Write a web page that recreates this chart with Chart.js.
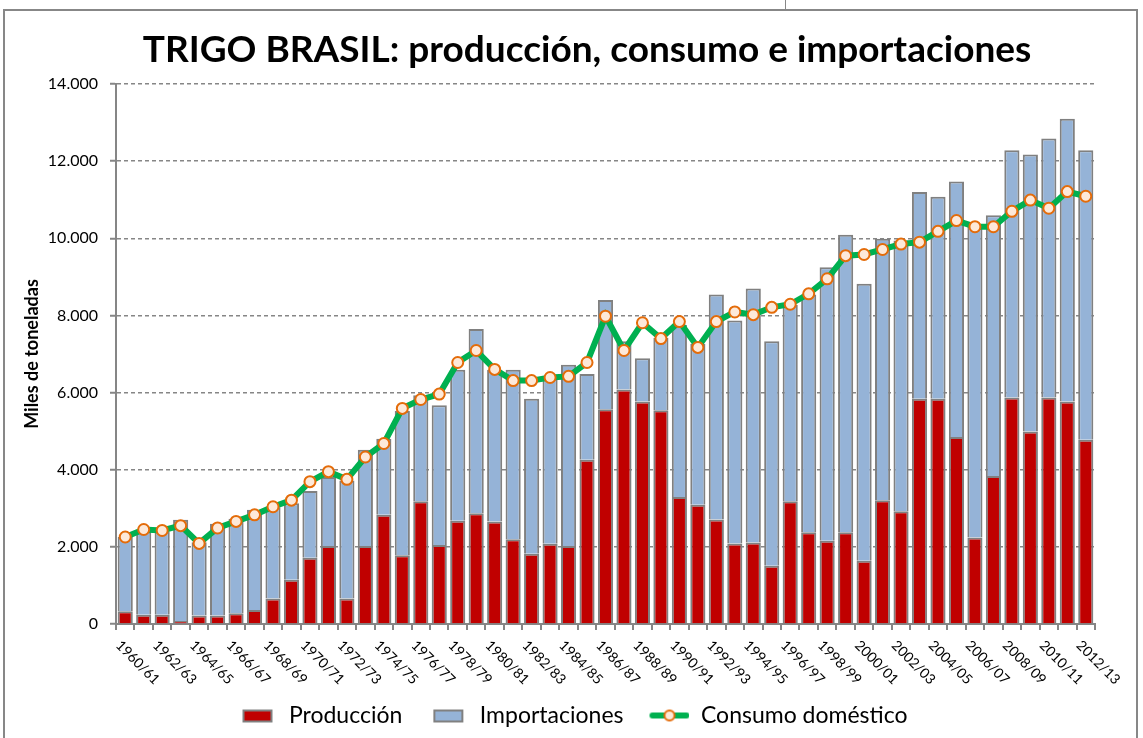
<!DOCTYPE html>
<html lang="es">
<head>
<meta charset="UTF-8">
<title>TRIGO BRASIL: producción, consumo e importaciones</title>
<script src="https://cdn.jsdelivr.net/npm/chart.js@4.4.0/dist/chart.umd.min.js"></script>
<style>
  html, body { margin: 0; padding: 0; background: #fff; }
  #wrap { position: relative; width: 1143px; height: 738px; overflow: hidden; }
  canvas { position: absolute; left: 0; top: 0; }
  #title { position: absolute; left: 0; top: 29px; width: 1174px; text-align: center;
           font: bold 37px/37px Lato, sans-serif; color: #000; white-space: nowrap; }
  #frame { position: absolute; left: 3px; top: 9px; width: 1135px; height: 740px; border: 2px solid #878787; box-sizing: border-box; }
  #notch { position: absolute; left: 785px; top: 0; width: 1px; height: 10px; background: #878787; }
</style>
</head>
<body>
<div id="wrap">
  <canvas id="chart" width="1143" height="738"></canvas>
  <div id="title">TRIGO BRASIL: producción, consumo e importaciones</div>
  <div id="frame"></div>
  <div id="notch"></div>
</div>
<script>
// campañas 1960/61 .. 2012/13
const seasons = [
  '1960/61','1961/62','1962/63','1963/64','1964/65','1965/66','1966/67','1967/68','1968/69','1969/70',
  '1970/71','1971/72','1972/73','1973/74','1974/75','1975/76','1976/77','1977/78','1978/79','1979/80',
  '1980/81','1981/82','1982/83','1983/84','1984/85','1985/86','1986/87','1987/88','1988/89','1989/90',
  '1990/91','1991/92','1992/93','1993/94','1994/95','1995/96','1996/97','1997/98','1998/99','1999/00',
  '2000/01','2001/02','2002/03','2003/04','2004/05','2005/06','2006/07','2007/08','2008/09','2009/10',
  '2010/11','2011/12','2012/13'
];

// miles de toneladas
const produccion = [
  330, 240, 240, 75, 220, 220, 280, 360, 660, 1150,
  1720, 2020, 660, 2020, 2830, 1780, 3180, 2050, 2680, 2870,
  2660, 2200, 1820, 2080, 2020, 4260, 5570, 6080, 5770, 5540,
  3290, 3090, 2710, 2090, 2110, 1510, 3180, 2380, 2160, 2380,
  1640, 3210, 2920, 5840, 5840, 4850, 2240, 3840, 5870, 4990,
  5870, 5770, 4780
];

const importaciones = [
  1925, 2160, 2160, 2625, 1900, 2380, 2450, 2600, 2370, 1980,
  1730, 1790, 3060, 2500, 1970, 3740, 2750, 3620, 3910, 4780,
  3930, 4390, 4020, 4280, 4700, 2220, 2830, 1250, 1120, 1880,
  4460, 4170, 5830, 5780, 6590, 5820, 5090, 6160, 7090, 7710,
  7180, 6780, 7020, 5360, 5240, 6620, 8060, 6760, 6410, 7180,
  6720, 7330, 7500
];

const consumo = [
  2255, 2450, 2425, 2550, 2090, 2490, 2660, 2830, 3040, 3210,
  3690, 3950, 3750, 4330, 4680, 5590, 5820, 5960, 6780, 7090,
  6600, 6310, 6310, 6390, 6420, 6780, 7980, 7090, 7810, 7400,
  7840, 7170, 7840, 8090, 8020, 8210, 8290, 8560, 8950, 9550,
  9580, 9710, 9850, 9900, 10180, 10460, 10300, 10300, 10700, 10990,
  10780, 11210, 11090
];

const legendNames = ['Producción', 'Importaciones', 'Consumo doméstico'];

const RED = '#C00000';
const BLUE = '#95B3D7';
const EDGE = '#808080';
const GREEN = '#00B050';
const ORANGE = '#E46C0A';
const PEACH = '#FDE9D9';
const AXIS = '#868686';

Chart.defaults.font.family = 'Lato';

function fmt(v) {
  return String(v).replace(/\B(?=(\d{3})+(?!\d))/g, '.');
}

// legend symbols
function boxIcon(fill) {
  const c = document.createElement('canvas');
  c.width = 56; c.height = 20;
  const g = c.getContext('2d');
  g.fillStyle = EDGE;
  g.fillRect(21, 4, 30, 13);
  g.fillStyle = fill;
  g.fillRect(23, 6, 26, 9);
  return c;
}
function lineIcon() {
  const c = document.createElement('canvas');
  c.width = 56; c.height = 20;
  const g = c.getContext('2d');
  g.strokeStyle = GREEN;
  g.lineWidth = 6;
  g.lineCap = 'round';
  g.beginPath(); g.moveTo(19, 10); g.lineTo(53, 10); g.stroke();
  g.beginPath(); g.arc(36, 10, 5, 0, Math.PI * 2);
  g.fillStyle = PEACH; g.fill();
  g.lineWidth = 2; g.strokeStyle = ORANGE; g.stroke();
  return c;
}
const icons = [boxIcon(RED), boxIcon(BLUE), lineIcon()];

// rotated category labels, every other season
const xLabels = {
  id: 'xLabels',
  afterDraw(chart) {
    const xs = chart.scales.x;
    const ctx = chart.ctx;
    ctx.save();
    ctx.font = '14px Lato';
    ctx.fillStyle = '#000';
    ctx.textAlign = 'left';
    ctx.textBaseline = 'middle';
    seasons.forEach((lab, i) => {
      if (i % 2) return;
      const x = xs.getPixelForValue(i);
      ctx.save();
      ctx.translate(x - 7, xs.top + 19);
      ctx.rotate(Math.PI / 4);
      ctx.fillText(lab, 0, 0);
      ctx.restore();
    });
    ctx.restore();
  }
};

new Chart(document.getElementById('chart'), {
  type: 'bar',
  data: {
    labels: seasons,
    datasets: [
      {
        type: 'line',
        label: 'Consumo doméstico',
        data: consumo,
        order: 0,
        borderColor: GREEN,
        borderWidth: 6,
        tension: 0,
        pointRadius: 5.5,
        pointBorderWidth: 2,
        pointBackgroundColor: PEACH,
        pointBorderColor: ORANGE,
        stack: 'line'
      },
      {
        label: 'Producción',
        data: produccion,
        order: 1,
        backgroundColor: RED,
        borderColor: EDGE,
        borderWidth: 2,
        stack: 'bars'
      },
      {
        label: 'Importaciones',
        data: importaciones,
        order: 2,
        backgroundColor: BLUE,
        borderColor: EDGE,
        borderWidth: 2,
        stack: 'bars'
      }
    ]
  },
  options: {
    responsive: false,
    animation: false,
    layout: { padding: { left: 0, right: 14, top: 84, bottom: 1 } },
    datasets: {
      bar: { barPercentage: 0.82, categoryPercentage: 1 }
    },
    plugins: {
      title: { display: false },
      legend: {
        position: 'bottom',
        labels: {
          usePointStyle: true,
          pointStyleWidth: 56,
          color: '#000',
          font: { size: 23 },
          padding: 10,
          generateLabels() {
            return legendNames.map((t, i) => ({
              text: t,
              pointStyle: icons[i],
              fillStyle: 'transparent',
              strokeStyle: 'transparent',
              lineWidth: 0,
              hidden: false,
              datasetIndex: [1, 2, 0][i]
            }));
          }
        }
      },
      tooltip: { enabled: false }
    },
    scales: {
      x: {
        stacked: true,
        grid: {
          drawOnChartArea: false,
          drawTicks: true,
          tickLength: 6,
          color: AXIS,
          lineWidth: 2,
          offset: true
        },
        border: { color: AXIS, width: 2 },
        ticks: { display: false, autoSkip: false },
        afterFit(s) { s.height = 70; }
      },
      y: {
        stacked: true,
        min: 0,
        max: 14000,
        ticks: {
          stepSize: 2000,
          color: '#000',
          font: { size: 16 },
          padding: 12,
          callback: v => fmt(v)
        },
        grid: {
          color: AXIS,
          lineWidth: 1.5,
          tickLength: 6,
          tickColor: AXIS,
          tickWidth: 2
        },
        border: { color: AXIS, width: 2, dash: [4, 3] },
        title: {
          display: true,
          text: 'Miles de toneladas',
          color: '#000',
          font: { size: 18, weight: 'bold' },
          padding: { top: 21, bottom: 0 }
        },
        afterFit(s) { s.width = 116; }
      },
      // empty right-hand spacer so the plot ends where the reference does
      pad: {
        position: 'right',
        display: true,
        grid: { display: false },
        border: { display: false },
        ticks: { display: false },
        afterFit(s) { s.width = 34; }
      }
    }
  },
  plugins: [xLabels]
});
</script>
</body>
</html>
